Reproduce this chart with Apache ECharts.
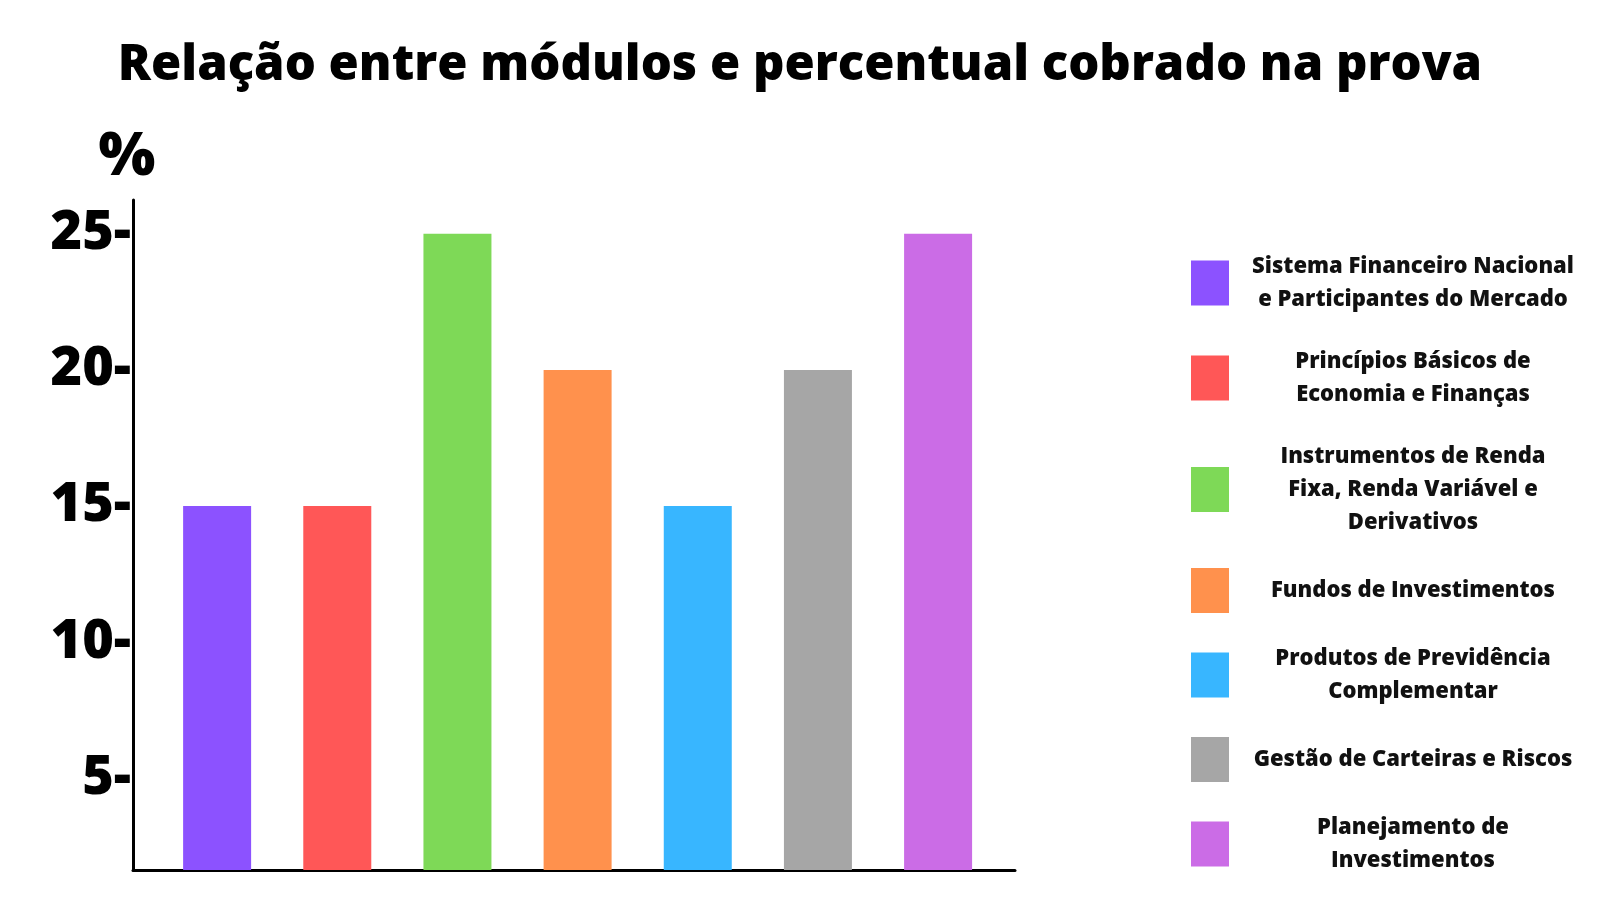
<!DOCTYPE html>
<html>
<head>
<meta charset="utf-8">
<title>Relação entre módulos e percentual cobrado na prova</title>
<script src="https://cdn.jsdelivr.net/npm/echarts@6/dist/echarts.min.js"></script>
<style>
  html, body { margin: 0; padding: 0; background: #fff; }
  #chart { width: 1600px; height: 900px; }
</style>
</head>
<body>
<div id="chart"></div>
<script>
const modules = [
  'Sistema Financeiro Nacional\ne Participantes do Mercado',
  'Princípios Básicos de\nEconomia e Finanças',
  'Instrumentos de Renda\nFixa, Renda Variável e\nDerivativos',
  'Fundos de Investimentos',
  'Produtos de Previdência\nComplementar',
  'Gestão de Carteiras e Riscos',
  'Planejamento de\nInvestimentos'
];
const percentages = [15, 15, 25, 20, 15, 20, 25];
const colors = ['#8C52FF', '#FF5757', '#7ED957', '#FF914D', '#38B6FF', '#A6A6A6', '#CB6CE6'];
const yTicks = [5, 10, 15, 20, 25];

const font = "'Open Sans', 'Noto Sans', sans-serif";
const heavy = 800;

const chart = echarts.init(document.getElementById('chart'));

// one series per module so the legend lists each one with its colour
const series = modules.map((name, i) => ({
  name: name,
  type: 'bar',
  stack: 'modulos',
  barWidth: 68,
  itemStyle: { color: colors[i] },
  data: [[i, percentages[i]]]
}));

chart.setOption({
  animation: false,
  backgroundColor: '#fff',
  title: {
    text: 'Relação entre módulos e percentual cobrado na prova',
    left: 'center',
    top: 31,
    textStyle: { fontFamily: font, fontSize: 49, fontWeight: heavy, color: '#000', lineHeight: 60 }
  },
  legend: {
    data: modules,
    orient: 'vertical',
    left: 1191,
    top: 250,
    padding: 0,
    itemWidth: 38,
    itemHeight: 45,
    itemGap: 29,
    icon: 'rect',
    selectedMode: false,
    formatter: name => name.split('\n').map(s => '{c|' + s + '}').join('\n'),
    textStyle: {
      fontFamily: font, fontSize: 22, fontWeight: heavy, color: '#111', lineHeight: 33,
      rich: {
        c: { width: 358, align: 'center', fontFamily: font, fontSize: 22, fontWeight: heavy, color: '#111', lineHeight: 33 }
      }
    }
  },
  grid: { left: 133, right: 585, top: 200, bottom: 30, containLabel: false },
  xAxis: {
    type: 'value',
    min: -0.7,
    max: 6.64,
    axisLine: { show: true, onZero: false, lineStyle: { color: '#000', width: 3 } },
    axisTick: { show: false },
    axisLabel: { show: false },
    splitLine: { show: false }
  },
  yAxis: {
    type: 'value',
    min: 1.63,
    max: 26.24,
    name: '%',
    nameLocation: 'end',
    nameGap: 12,
    nameTextStyle: { fontFamily: font, fontSize: 60, fontWeight: heavy, color: '#000', padding: [0, 12, 0, 0] },
    axisLine: { show: true, onZero: false, lineStyle: { color: '#000', width: 3 } },
    axisTick: { show: false },
    axisLabel: {
      customValues: yTicks,
      formatter: v => v + '-',
      margin: 2,
      fontFamily: font,
      fontSize: 54,
      fontWeight: heavy,
      color: '#000'
    },
    splitLine: { show: false }
  },
  series: series
});
</script>
</body>
</html>
